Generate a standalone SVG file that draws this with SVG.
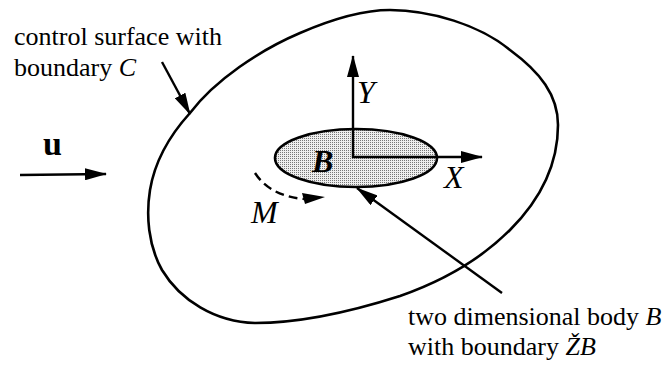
<svg xmlns="http://www.w3.org/2000/svg" width="672" height="367" viewBox="0 0 672 367" font-family="Times New Roman, serif">
  <defs>
    <marker id="ah" viewBox="0 0 22 12" markerWidth="22" markerHeight="12" refX="21" refY="6" orient="auto" markerUnits="userSpaceOnUse">
      <path d="M0,0 L22,6 L0,12 z" fill="#000"/>
    </marker>
    <pattern id="dots" patternUnits="userSpaceOnUse" width="2" height="2">
      <rect width="2" height="2" fill="#eeeeee"/>
      <rect width="1" height="1" fill="#777777"/>
    </pattern>
  </defs>

  <g id="control-surface">
    <path d="M190,113 C215,80 260,50 300,33 C330,20 360,10 390,10 C430,10 480,25 510,50 C540,72 558,95 558,125 C558,160 545,195 510,230 C480,260 440,282 400,296 C350,312 300,323 255,323 C215,322 180,300 162,270 C148,245 146,215 150,190 C155,160 170,135 190,113 Z" fill="none" stroke="#000" stroke-width="2.6"/>
  </g>

  <g id="body">
    <ellipse cx="356" cy="158" rx="81" ry="29" fill="url(#dots)" stroke="#000" stroke-width="2.6"/>
  </g>

  <g id="connectors" stroke="#000" stroke-width="2.4" fill="none">
    <line marker-end="url(#ah)" x1="353" y1="158" x2="353" y2="56"/>
    <line marker-end="url(#ah)" x1="352" y1="157" x2="482" y2="157"/>
    <line marker-end="url(#ah)" x1="20" y1="175" x2="106" y2="174"/>
    <line marker-end="url(#ah)" x1="162" y1="62" x2="190" y2="114"/>
    <line marker-end="url(#ah)" x1="502" y1="293" x2="357" y2="188"/>
    <path d="M255,173 Q270,196 304,199" stroke-dasharray="9,5"/>
    <polygon points="325,197 302,193 305,204" fill="#000" stroke="none"/>
  </g>

  <g id="labels" font-family="Times New Roman, serif">
    <text x="14" y="45" font-family="Times New Roman" font-size="26">control surface with</text>
    <text x="14" y="76" font-family="Times New Roman" font-size="26">boundary <tspan font-style="italic">C</tspan></text>
    <text x="43" y="155" font-family="Times New Roman" font-weight="bold" font-size="34">u</text>
    <text x="357" y="103" font-family="Times New Roman" font-size="32" font-style="italic">Y</text>
    <text x="444" y="188" font-family="Times New Roman" font-size="32" font-style="italic">X</text>
    <text x="312" y="172" font-family="Times New Roman" font-size="32" font-style="italic" font-weight="bold">B</text>
    <text x="251" y="223" font-family="Times New Roman" font-size="32" font-style="italic">M</text>
    <text x="408" y="325" font-family="Times New Roman" font-size="26">two dimensional body <tspan font-style="italic">B</tspan></text>
    <text x="408" y="355" font-family="Times New Roman" font-size="26">with boundary <tspan font-style="italic">ŽB</tspan></text>
  </g>
</svg>
